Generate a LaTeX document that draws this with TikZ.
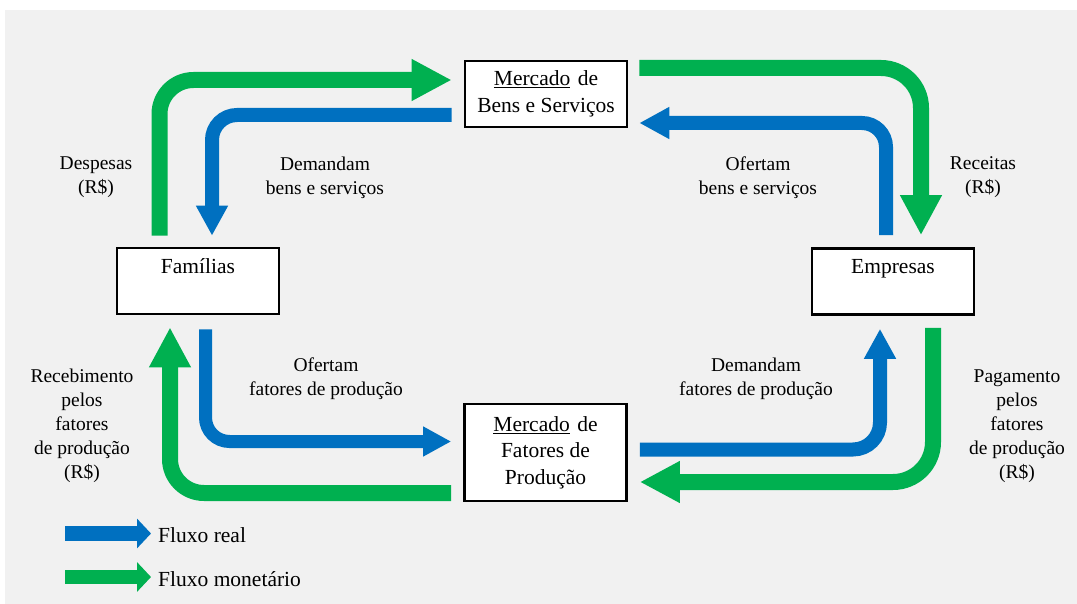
\documentclass[tikz,border=0pt]{standalone}
\usepackage{fontspec}
\setmainfont{Liberation Serif}
\usetikzlibrary{arrows.meta}
\definecolor{gfl}{HTML}{00B050}
\definecolor{bfl}{HTML}{0070C0}
\definecolor{bgc}{HTML}{F1F1F1}
\begin{document}
\begin{tikzpicture}[x=1pt,y=-1pt,
  box/.style={draw=black,line width=2.6pt,fill=white,minimum width=162pt,inner sep=0pt,align=center,
    font=\fontsize{21.5}{26.5}\selectfont},
  boxtxt/.style={anchor=base,inner sep=0pt,font=\fontsize{21.5}{26.5}\selectfont},
  lbl/.style={align=center,inner sep=0pt,font=\fontsize{19.5}{24}\selectfont},
  legtxt/.style={anchor=west,inner sep=0pt,font=\fontsize{21.5}{26}\selectfont},
  gbig/.style={draw=gfl,line width=16pt,-{Triangle[length=40pt,width=39pt]}},
  bbig/.style={draw=bfl,line width=14pt,-{Triangle[length=30pt,width=30pt]}},
]
\useasboundingbox (0,0) rectangle (1077,604);
\fill[white] (0,0) rectangle (1077,604);
\fill[bgc] (5,10) rectangle (1077,604);

% nodes
\node[box,minimum height=66pt] (bens) at (546,94) {\underline{Mercado}\hspace{0.35em}de\\Bens e Serviços};
\node[box,minimum height=66pt] (fam) at (198,281) {};
\node[boxtxt] (famt) at ([shift={(0,27)}]fam.north) {Famílias};
\node[box,minimum height=66pt] (emp) at (893,281.5) {};
\node[boxtxt] (empt) at ([shift={(0,26)}]emp.north) {Empresas};
\node[box,minimum height=97pt] (fat) at (545.5,452.5) {\underline{Mercado}\hspace{0.35em}de\\Fatores de\\Produção};

% flows
\draw[gbig,rounded corners=34pt] ([shift={(-38.5,-11)}]fam.north) |- ([shift={(-12,-14)}]bens.west);
\draw[bbig,rounded corners=25pt] ([shift={(-12,21)}]bens.west) -| ([shift={(14,-11)}]fam.north);
\draw[gbig,rounded corners=40pt] ([shift={(11,-26)}]bens.east) -| ([shift={(28,-12)}]emp.north);
\draw[bbig,rounded corners=24pt] ([shift={(-7,-12)}]emp.north) |- ([shift={(11,29)}]bens.east);
\draw[bbig,line width=13pt,-{Triangle[length=28pt,width=28pt]},rounded corners=24pt] ([shift={(7.5,14)}]fam.south) |- ([shift={(-12,-11)}]fat.west);
\draw[gbig,rounded corners=34pt] ([shift={(-12,40.5)}]fat.west) -| ([shift={(-28,12)}]fam.south);
\draw[bbig,rounded corners=27pt] ([shift={(12,-3)}]fat.east) -| ([shift={(-13,13)}]emp.south);
\draw[gbig,rounded corners=40pt] ([shift={(40,12)}]emp.south) |- ([shift={(12,29.5)}]fat.east);

% labels
\node[lbl] (ldesp) at (96,177) {Despesas\\(R\$)};
\node[lbl] (ldemb) at (325,178) {Demandam\\bens e serviços};
\node[lbl] (lofeb) at (758,178) {Ofertam\\bens e serviços};
\node[lbl] (lrec) at (983,177) {Receitas\\(R\$)};
\node[lbl] (lofef) at (326,379) {Ofertam\\fatores de produção};
\node[lbl] (ldemf) at (756,379) {Demandam\\fatores de produção};
\node[lbl] (lrcb) at (82,426) {Recebimento\\pelos\\fatores\\de produção\\(R\$)};
\node[lbl] (lpag) at (1017,426) {Pagamento\\pelos\\fatores\\de produção\\(R\$)};

% legend
\node[legtxt] (lreal) at (158,535) {Fluxo real};
\node[legtxt] (lmon) at (158,579) {Fluxo monetário};
\coordinate (lrs) at (65,533.5);
\coordinate (lms) at (65,577);
\draw[draw=bfl,line width=15pt,-{Triangle[length=14pt,width=29pt]}] (lrs) -- ([shift={(-7,0)}]lrs -| lreal.west);
\draw[draw=gfl,line width=14pt,-{Triangle[length=14pt,width=29pt]}] (lms) -- ([shift={(-7,0)}]lms -| lmon.west);
\end{tikzpicture}
\end{document}
